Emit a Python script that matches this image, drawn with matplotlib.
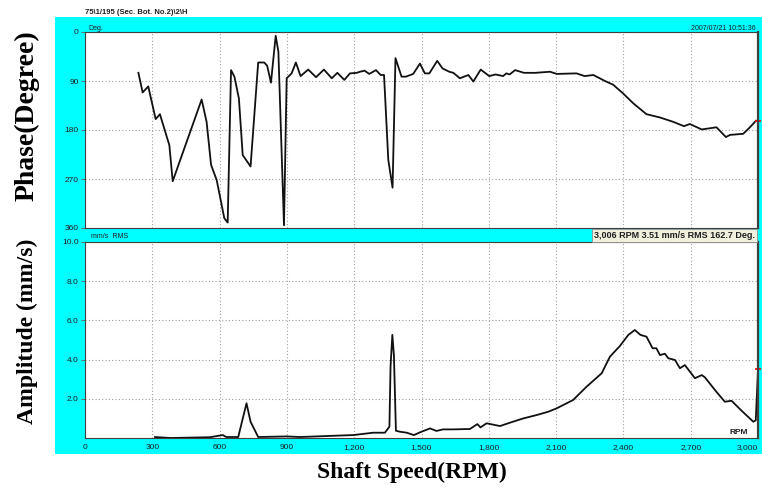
import matplotlib
matplotlib.use("Agg")
import matplotlib.pyplot as plt
from matplotlib.patches import Rectangle

# Phase (deg) vs shaft speed
phase_rpm = [238, 257, 282, 315, 334, 376, 391, 520, 542, 562, 587, 621, 636, 651, 666,
             686, 703, 738, 772, 799, 812, 829, 850, 862, 887, 899, 921, 940, 961, 995,
             1030, 1065, 1100, 1125, 1156, 1181, 1211, 1226, 1246, 1267, 1297, 1318, 1333,
             1352, 1371, 1384, 1411, 1431, 1463, 1493, 1515, 1535, 1570, 1594, 1624, 1642,
             1671, 1709, 1731, 1764, 1802, 1830, 1864, 1878, 1893, 1917, 1957, 2006, 2073,
             2103, 2191, 2227, 2266, 2318, 2355, 2399, 2444, 2503, 2563, 2622, 2670, 2696,
             2749, 2815, 2857, 2875, 2934, 2964, 2991]
phase_deg = [75, 111, 100, 160, 151, 208, 274, 124, 165, 244, 272, 342, 350, 70, 82,
             122, 226, 247, 56, 56, 62, 93, 7, 36, 355, 85, 76, 56, 81, 69,
             83, 69, 85, 75, 88, 76, 75, 73, 71, 77, 70, 79, 79,
             235, 286, 48, 82, 82, 77, 58, 76, 76, 53, 67, 73, 75,
             85, 79, 91, 69, 81, 78, 81, 76, 78, 70, 75, 75, 73,
             77, 76, 81, 79, 90, 97, 113, 131, 151, 157, 165, 173, 169,
             179, 175, 193, 189, 187, 175, 163]

# Amplitude (mm/s RMS) vs shaft speed
amp_rpm = [312, 380, 557, 614, 630, 683, 720, 738, 772, 899, 958, 1077, 1122, 1196, 1285,
           1337, 1357, 1362, 1370, 1377, 1386, 1404, 1434, 1466, 1500, 1538, 1567, 1596,
           1641, 1716, 1749, 1763, 1790, 1850, 1894, 1954, 2013, 2065, 2102, 2176, 2236,
           2303, 2340, 2384, 2422, 2451, 2476, 2503, 2530, 2547, 2563, 2585, 2600, 2630,
           2652, 2674, 2719, 2749, 2763, 2808, 2852, 2882, 2927, 2979, 2990, 3000]
amp_val = [0.05, 0.0, 0.04, 0.15, 0.05, 0.05, 1.77, 0.83, 0.05, 0.08, 0.05, 0.1, 0.12, 0.15, 0.27,
           0.27, 0.58, 3.64, 5.26, 4.23, 0.37, 0.32, 0.27, 0.15, 0.32, 0.49, 0.36, 0.44,
           0.44, 0.46, 0.71, 0.54, 0.75, 0.61, 0.78, 1.0, 1.17, 1.34, 1.51, 1.94, 2.62,
           3.30, 4.15, 4.69, 5.26, 5.51, 5.26, 5.17, 4.58, 4.58, 4.23, 4.3, 4.07, 3.98,
           3.56, 3.72, 3.05, 3.21, 3.1, 2.45, 1.85, 1.90, 1.39, 0.83, 0.9, 3.47]

x_ticks = [0, 300, 600, 900, 1200, 1500, 1800, 2100, 2400, 2700, 3000]
x_labels = ["0", "300", "600", "900", "1,200", "1,500", "1,800", "2,100", "2,400", "2,700", "3,000"]
phase_ticks = [0, 90, 180, 270, 360]
amp_ticks = [2, 4, 6, 8, 10]
amp_labels = ["2.0", "4.0", "6.0", "8.0", "10.0"]

W, H = 762, 491
CYAN = "#00ffff"


def fx(x):
    return x / W


def fy(y):
    return 1 - y / H


fig = plt.figure(figsize=(W / 100, H / 100), dpi=100)
fig.patch.set_facecolor("white")
fig.patches.append(Rectangle((fx(55), fy(454)), fx(762 - 55), (454 - 17) / H,
                             transform=fig.transFigure, facecolor=CYAN, edgecolor="none", zorder=-10))

left, width = fx(85), 673 / W
ax1 = fig.add_axes([left, fy(228), width, 196 / H])
ax2 = fig.add_axes([left, fy(438), width, 196 / H])

tick_font = dict(fontsize=6, family="Liberation Sans", color="#202020")
for ax in (ax1, ax2):
    ax.set_facecolor("white")
    ax.set_xlim(0, 3000)
    ax.set_xticks(x_ticks)
    ax.grid(True, color="#a0a0a0", linestyle=(0, (1, 2)), linewidth=0.8)
    ax.tick_params(length=3, width=0.6, color="#606060", pad=1.5)
    for s in ax.spines.values():
        s.set_color("#404040")
        s.set_linewidth(0.8)
    ax.spines["right"].set_linewidth(1.6)

ax1.plot(phase_rpm, phase_deg, color="#111111", linewidth=1.3)
ax1.plot([3000], [162.7], marker="_", color="red", markersize=5, markeredgewidth=1.2, clip_on=False)
ax1.set_ylim(360, 0)
ax1.set_yticks(phase_ticks)
ax1.set_yticklabels([str(t) for t in phase_ticks], **tick_font)
ax1.set_xticklabels([])
ax1.tick_params(axis="x", length=0)

ax2.plot(amp_rpm, amp_val, color="#111111", linewidth=1.3)
ax2.plot([3000], [3.51], marker="_", color="red", markersize=5, markeredgewidth=1.2, clip_on=False)
ax2.set_ylim(0, 10)
ax2.set_yticks(amp_ticks)
ax2.set_yticklabels(amp_labels, **tick_font)
ax2.set_xticklabels(x_labels, **tick_font)
ax2.get_xticklabels()[-1].set_horizontalalignment("right")
ax2.tick_params(axis="x", length=0, pad=4)
ax2.text(0.985, 0.012, "RPM", transform=ax2.transAxes, ha="right", va="bottom",
         fontsize=6, family="Liberation Sans", fontweight="bold", color="#202020")

# header and panel texts
fig.text(fx(85), fy(12), "75\\1/195 (Sec. Bot. No.2)\\2\\H", fontsize=5.5, family="Liberation Sans",
         fontweight="bold", va="center", color="#202020")
fig.text(fx(88), fy(28), "Deg.", fontsize=5, family="Liberation Sans", va="center", color="#202020")
fig.text(fx(756), fy(28), "2007/07/21 10:51:36", fontsize=5, family="Liberation Sans",
         ha="right", va="center", color="#202020")
fig.text(fx(91), fy(237), "mm/s  RMS", fontsize=5, family="Liberation Sans", va="center", color="#202020")
fig.text(fx(594), fy(235.5), "3,006 RPM 3.51 mm/s RMS 162.7 Deg.", fontsize=6.5, family="Liberation Sans",
         fontweight="bold", va="center", ha="left", color="#202020",
         bbox=dict(boxstyle="square,pad=0.2", facecolor="#f0f0dc", edgecolor="#909090", linewidth=0.6))

# axis titles
title_font = dict(family="Liberation Serif", fontweight="bold", color="black")
fig.text(fx(27), fy(116), "Phase(Degree)", rotation=90, ha="center", va="center", fontsize=20, **title_font)
fig.text(fx(27), fy(331), "Amplitude (mm/s)", rotation=90, ha="center", va="center", fontsize=17, **title_font)
fig.text(fx(412), fy(472), "Shaft Speed(RPM)", ha="center", va="center", fontsize=17, **title_font)

fig.savefig("out.png", dpi=100)
